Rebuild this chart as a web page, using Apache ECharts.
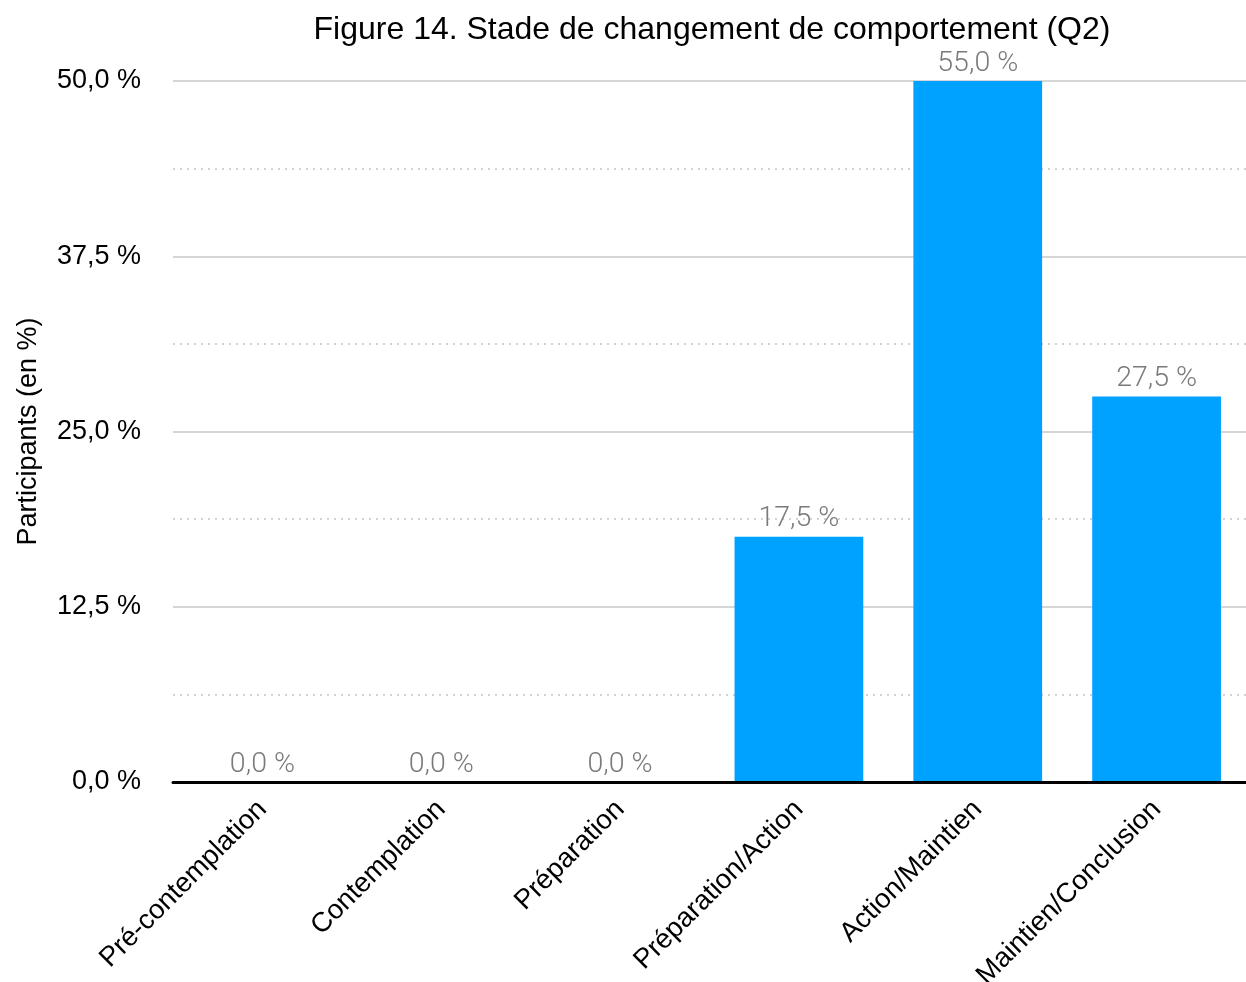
<!DOCTYPE html>
<html>
<head>
<meta charset="utf-8">
<script src="https://cdn.jsdelivr.net/npm/echarts@6/dist/echarts.min.js"></script>
<style>
  html, body { margin: 0; padding: 0; background: #fff; }
  #chart { width: 1246px; height: 982px; }
</style>
</head>
<body>
<div id="chart"></div>
<script>
// Stages of behaviour change and share of participants (%)
const categories = ['Pré-contemplation', 'Contemplation', 'Préparation', 'Préparation/Action', 'Action/Maintien', 'Maintien/Conclusion'];
const participants = [0, 0, 0, 17.5, 55, 27.5];
const yTicks = { min: 0, max: 50, interval: 12.5 };

const fmtPct = v => v.toFixed(1).replace('.', ',') + ' %';
const FONT = '"Liberation Sans", Arial, Helvetica, sans-serif';

const chart = echarts.init(document.getElementById('chart'), null, { renderer: 'canvas' });
chart.setOption({
  animation: false,
  backgroundColor: '#ffffff',
  title: {
    text: 'Figure 14. Stade de changement de comportement (Q2)',
    left: 707,
    top: 9,
    textAlign: 'center',
    textStyle: { fontFamily: FONT, fontSize: 32, fontWeight: 'normal', color: '#000' }
  },
  grid: { left: 173, right: 0, top: 81, bottom: 200, containLabel: false, outerBoundsMode: 'none' },
  xAxis: {
    type: 'category',
    data: categories,
    axisTick: { show: false },
    axisLine: { lineStyle: { color: '#000', width: 3 } },
    axisLabel: {
      rotate: 45,
      margin: 23,
      interval: 0,
      color: '#000',
      fontFamily: FONT,
      fontSize: 27.5
    },
    z: 5
  },
  yAxis: {
    type: 'value',
    min: yTicks.min,
    max: yTicks.max,
    interval: yTicks.interval,
    name: 'Participants (en %)',
    nameLocation: 'middle',
    nameGap: 131,
    nameRotate: 90,
    nameTextStyle: { fontFamily: FONT, fontSize: 27, color: '#000' },
    axisLine: { show: false },
    axisTick: { show: false },
    axisLabel: {
      margin: 32,
      color: '#000',
      fontFamily: FONT,
      fontSize: 27,
      formatter: v => fmtPct(v)
    },
    splitLine: { lineStyle: { color: '#c8c8c8', width: 1.5 } },
    minorTick: { show: false, splitNumber: 2 },
    minorSplitLine: { show: true, lineStyle: { color: '#d2d2d2', width: 2, type: [2, 5] } }
  },
  series: [{
    type: 'bar',
    data: participants,
    barWidth: '72%',
    clip: true,
    itemStyle: { color: '#00a2ff' },
    label: {
      show: true,
      position: 'top',
      distance: 3,
      color: '#7a7a7a',
      fontFamily: 'Roboto, ' + FONT,
      fontWeight: 300,
      fontSize: 28.5,
      formatter: p => fmtPct(p.value)
    }
  }]
});
</script>
</body>
</html>
